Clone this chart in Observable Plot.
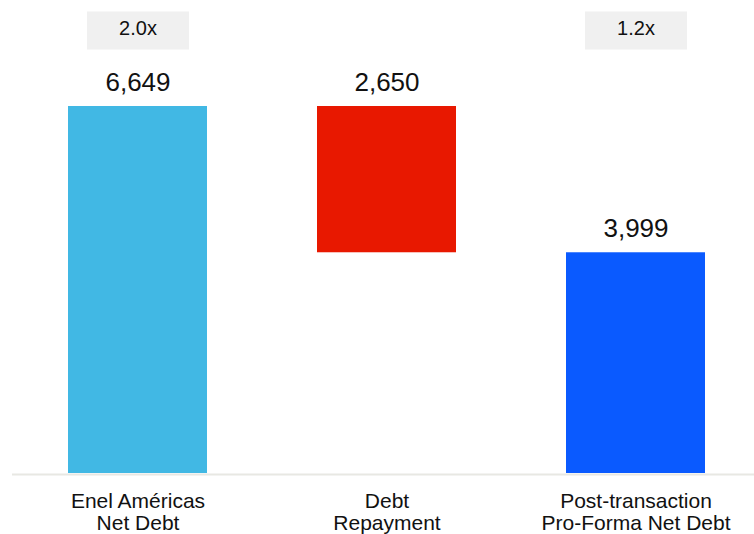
<!DOCTYPE html>
<html>
<head>
<meta charset="utf-8">
<script src="https://cdn.jsdelivr.net/npm/d3@7"></script>
<script src="https://cdn.jsdelivr.net/npm/@observablehq/plot@0.6"></script>
<style>
  html, body { margin: 0; padding: 0; background: #ffffff; overflow: hidden; }
</style>
</head>
<body>
<div id="chart"></div>
<script>
const categories = ["Enel Américas\nNet Debt", "Debt\nRepayment", "Post-transaction\nPro-Forma Net Debt"];
const amounts = [6649, 2650, 3999];
const steps = ["total", "decrease", "total"];
const valueLabels = ["6,649", "2,650", "3,999"];
const ratioLabels = ["2.0x", null, "1.2x"];
const barColors = ["#41b8e4", "#e81800", "#0a5aff"];

let running = 0;
const rows = categories.map((c, i) => {
  let y1, y2;
  if (steps[i] === "total") { y1 = 0; y2 = amounts[i]; running = amounts[i]; }
  else { y2 = running; y1 = running - amounts[i]; running = y1; }
  return { category: c, y1, y2, label: valueLabels[i], ratio: ratioLabels[i] };
});
const ratioRows = rows.filter(d => d.ratio);

const boxSymbol = { draw(ctx) { ctx.rect(-51, -19, 102, 38); } };

const chart = Plot.plot({
  width: 754,
  height: 534,
  marginTop: 106,
  marginBottom: 61,
  marginLeft: 12,
  marginRight: 0,
  style: { fontFamily: "Liberation Sans, Arial, sans-serif", color: "#111", background: "#ffffff", overflow: "visible" },
  x: { domain: categories, range: [68, 706], paddingInner: 0.44, paddingOuter: 0 },
  y: { domain: [0, d3.max(rows, d => d.y2)], axis: null },
  color: { domain: categories, range: barColors },
  marks: [
    Plot.ruleY([0], { stroke: "#e8e8e3", strokeWidth: 2, dy: 1 }),
    Plot.barY(rows, { x: "category", y1: "y1", y2: "y2", fill: "category" }),
    Plot.text(rows, { x: "category", y: "y2", text: "label", fontSize: 26, dy: -24, fill: "#111" }),
    Plot.dot(ratioRows, { x: "category", frameAnchor: "top", dy: -76, symbol: boxSymbol, fill: "#f0f0f0", stroke: "none" }),
    Plot.text(ratioRows, { x: "category", frameAnchor: "top", lineAnchor: "middle", text: "ratio", fontSize: 20, dy: -77.5, fill: "#111" }),
    Plot.axisX({ tickSize: 0, tickPadding: 18, fontSize: 21, lineHeight: 1.08, label: null, fill: "#111" })
  ]
});
document.getElementById("chart").appendChild(chart);
</script>
</body>
</html>
